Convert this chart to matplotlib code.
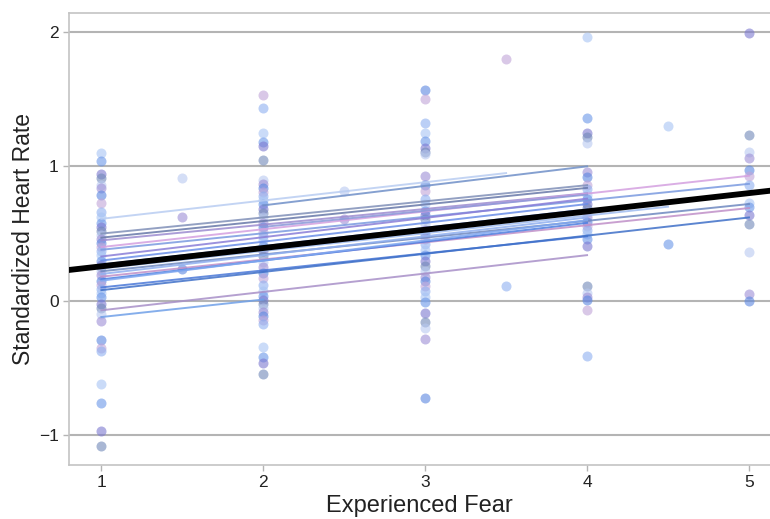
import matplotlib

matplotlib.use("Agg")
import matplotlib.pyplot as plt

plt.rcParams["font.family"] = ["Liberation Sans", "DejaVu Sans"]

# observed scores per fear level
fear_1 = [1.10, 1.04, 0.94, 0.91, 0.86, 0.84, 0.79, 0.73, 0.66, 0.62, 0.58, 0.55, 0.52,
          0.49, 0.46, 0.43, 0.40, 0.37, 0.34, 0.30, 0.27, 0.25, 0.22, 0.19, 0.15, 0.12,
          0.09, 0.06, 0.03, -0.02, -0.05, -0.10, -0.15, -0.29, -0.35, -0.37, -0.62,
          -0.76, -0.97, -1.08]
fear_15 = [0.91, 0.62, 0.24]
fear_2 = [1.53, 1.43, 1.25, 1.18, 1.15, 1.05, 0.90, 0.87, 0.84, 0.81, 0.78, 0.75, 0.72,
          0.68, 0.65, 0.62, 0.58, 0.55, 0.51, 0.48, 0.45, 0.41, 0.37, 0.33, 0.29, 0.25,
          0.21, 0.17, 0.12, 0.07, 0.04, 0.01, -0.02, -0.05, -0.08, -0.11, -0.14, -0.17,
          -0.34, -0.42, -0.46, -0.54]
fear_25 = [0.82, 0.61]
fear_3 = [1.57, 1.50, 1.32, 1.25, 1.19, 1.14, 1.11, 1.09, 0.93, 0.86, 0.82, 0.76, 0.72,
          0.67, 0.64, 0.61, 0.57, 0.53, 0.50, 0.46, 0.42, 0.38, 0.34, 0.30, 0.26, 0.22,
          0.18, 0.15, 0.11, 0.07, 0.03, -0.01, -0.09, -0.16, -0.20, -0.28, -0.72]
fear_35 = [1.80, 0.11]
fear_4 = [1.96, 1.36, 1.25, 1.22, 1.17, 0.96, 0.92, 0.86, 0.83, 0.79, 0.76, 0.72, 0.69,
          0.66, 0.62, 0.59, 0.56, 0.53, 0.50, 0.46, 0.41, 0.11, 0.06, 0.03, 0.01, -0.07,
          -0.41]
fear_45 = [1.30, 0.42]
fear_5 = [1.99, 1.23, 1.11, 1.06, 0.97, 0.93, 0.86, 0.73, 0.70, 0.64, 0.57, 0.36, 0.05,
          0.00]

fear_levels = [1, 1.5, 2, 2.5, 3, 3.5, 4, 4.5, 5]
scores = [fear_1, fear_15, fear_2, fear_25, fear_3, fear_35, fear_4, fear_45, fear_5]

# per-participant fitted lines
line_x0 = [1, 2, 1, 1, 1, 1, 1, 1, 1, 1, 1, 1, 1, 1, 1, 1, 1, 1, 1, 1, 2]
line_x1 = [3.5, 4, 4, 4, 4, 5, 5, 4, 4, 4, 4.5, 5, 4, 5, 4, 4, 4, 5, 4, 2, 4]
line_y0 = [0.61, 0.71, 0.50, 0.47, 0.45, 0.40, 0.38, 0.33, 0.30, 0.27, 0.24, 0.22, 0.20,
           0.18, 0.16, 0.15, 0.10, 0.08, -0.07, -0.12, 0.55]
line_y1 = [0.95, 1.00, 0.86, 0.84, 0.80, 0.93, 0.87, 0.76, 0.72, 0.68, 0.70, 0.72, 0.62,
           0.69, 0.58, 0.60, 0.48, 0.62, 0.34, 0.01, 0.79]

# fixed effect
fixed_intercept = 0.121
fixed_slope = 0.136

x_ticks = [1, 2, 3, 4, 5]
y_ticks = [-1, 0, 1, 2]

point_palette = ["#a8c4f4", "#6a96e8", "#7c78d0", "#7088b8", "#b8c8f0", "#9d8fd6",
                 "#5a86e0", "#c0a4d8", "#8fb0f0"]
line_palette = ["#b9cdf2", "#7090c8", "#8090b8", "#6878a8", "#9c8cd0", "#d4a0e0",
                "#7a9ae0", "#8a7ed8", "#6a8ee8", "#5b84e0", "#a0bcf0", "#6e88c0",
                "#90b0f0", "#c090c8", "#4c7ee0", "#80a8f0", "#4a78d8", "#3f70c8",
                "#a890c8", "#70a0e8", "#8a98d8"]

fig = plt.figure(figsize=(7.7, 5.19), dpi=100)
ax = fig.add_axes([0.0896, 0.104, 0.9104, 0.871])

grid_color = "#b4b4b4"
for y in y_ticks:
    ax.axhline(y, color=grid_color, linewidth=1.5, zorder=0)

k = 0
for x, ys in zip(fear_levels, scores):
    for y in ys:
        ax.scatter(x, y, s=52, color=point_palette[k % len(point_palette)],
                   alpha=0.6, linewidths=0, zorder=2)
        k += 1

for i in range(len(line_x0)):
    ax.plot([line_x0[i], line_x1[i]], [line_y0[i], line_y1[i]],
            color=line_palette[i], linewidth=1.4, alpha=0.85, zorder=3)

ax.axline((0, fixed_intercept), slope=fixed_slope, color="black", linewidth=4.2, zorder=4)

ax.set_xlim(0.8, 5.13)
ax.set_ylim(-1.22, 2.14)
ax.set_xticks(x_ticks)
ax.set_yticks(y_ticks)
ax.set_yticklabels(["\u22121", "0", "1", "2"])
ax.tick_params(axis="both", colors="#b4b4b4", labelcolor="#222222", labelsize=12.5,
               length=4, width=1)

for side in ["left", "bottom", "top"]:
    ax.spines[side].set_color("#c4c4c4")
    ax.spines[side].set_linewidth(1.2)
ax.spines["right"].set_visible(False)

ax.set_xlabel("Experienced Fear", fontsize=17, color="#222222", labelpad=3)
ax.set_ylabel("Standardized Heart Rate", fontsize=16.5, color="#222222", labelpad=3)

fig.savefig("out.png", dpi=100)
